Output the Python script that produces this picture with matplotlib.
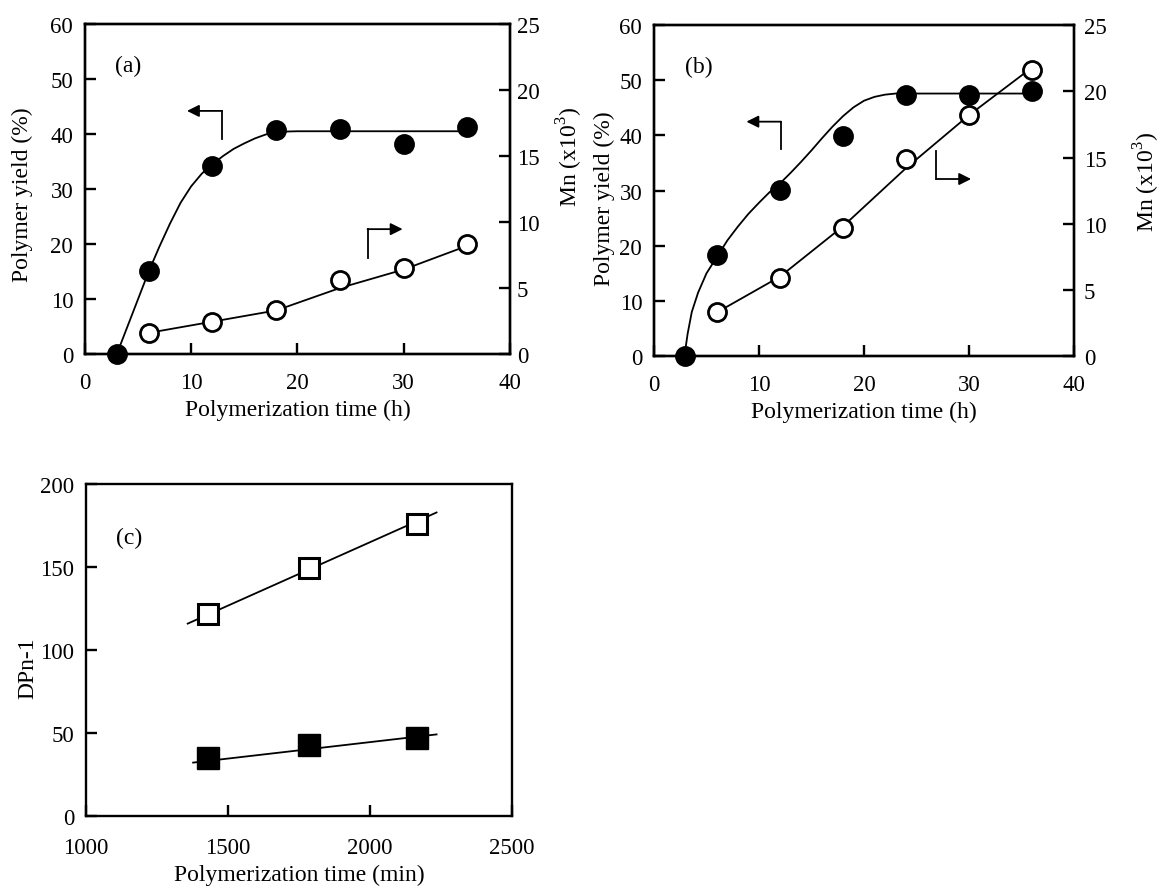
import matplotlib
matplotlib.use("Agg")
import matplotlib.pyplot as plt

plt.rcParams['font.family'] = ['Liberation Serif', 'DejaVu Serif']
plt.rcParams['mathtext.fontset'] = 'custom'
plt.rcParams['mathtext.rm'] = 'Liberation Serif'
plt.rcParams['font.size'] = 16.5

# (a) polymer yield and Mn vs time
time_a = [3, 6, 12, 18, 24, 30, 36]
yield_a = [0, 15, 34.1, 40.8, 40.9, 38.1, 41.3]
mn_time_a = [6, 12, 18, 24, 30, 36]
mn_a = [1.6, 2.4, 3.3, 5.6, 6.5, 8.3]
# fitted curves
yfit_x_a = [3, 6, 7, 8, 9, 10, 11, 12, 13, 14, 15, 16, 17, 18, 20, 36]
yfit_y_a = [0, 15, 19.5, 23.7, 27.5, 30.5, 32.8, 34.5, 36, 37.3, 38.3, 39.2, 39.9, 40.4, 40.5, 40.5]
mfit_x_a = [6, 12, 18, 24, 30, 36]
mfit_y_a = [1.6, 2.45, 3.3, 5.0, 6.4, 8.2]

# (b)
time_b = [3, 6, 12, 18, 24, 30, 36]
yield_b = [0, 18.3, 30.1, 39.9, 47.4, 47.4, 48.1]
mn_time_b = [6, 12, 18, 24, 30, 36]
mn_b = [3.3, 5.9, 9.7, 14.9, 18.2, 21.6]
yfit_x_b = [2.9, 3.2, 3.6, 4.2, 5, 6, 7, 8, 9, 10, 11, 12, 13, 14, 15, 16, 17, 18, 19, 20, 21, 22, 23, 24, 36]
yfit_y_b = [0, 4, 8, 11.5, 15, 18, 21, 23.5, 25.8, 27.8, 29.7, 31.3, 33.2, 35.2, 37.3, 39.5, 41.6, 43.5, 45.1, 46.3, 47, 47.4, 47.6, 47.6, 47.6]
mfit_x_b = [6, 12, 18, 24, 30, 36]
mfit_y_b = [3.3, 6.0, 9.8, 14.2, 18.2, 21.8]

# (c) DPn-1 vs time
time_c = [1430, 1785, 2165]
dp_open = [121.6, 149.7, 175.9]
dp_filled = [34.8, 42.8, 47.2]
fit_x_open = [1358, 2234]
fit_y_open = [116, 183]
fit_x_filled = [1377, 2234]
fit_y_filled = [32.2, 49.2]

LBL = 17


def style(ax, xpad=13, ypad=8.5):
    for s in ax.spines.values():
        s.set_linewidth(1.7)
    ax.tick_params(direction='in', length=8, width=1.7, labelsize=16.5)
    ax.tick_params(axis='x', pad=xpad)
    ax.tick_params(axis='y', pad=ypad)


def bent_arrow(ax, p0, corner, tip):
    ax.plot([p0[0], corner[0]], [p0[1], corner[1]], color='k', lw=1.3)
    ax.annotate('', xy=tip, xytext=corner,
                arrowprops=dict(arrowstyle='-|>', color='k', lw=1.3,
                                mutation_scale=18, shrinkA=0, shrinkB=0))


fig = plt.figure(figsize=(11.61, 8.87), dpi=100)

circ = dict(ms=13, mec='k', mew=2, zorder=3, ls='none')

# panel (a)
ax = fig.add_axes([0.0732, 0.5998, 0.366, 0.372])
ax.plot(yfit_x_a, yfit_y_a, color='k', lw=1.3)
ax.plot(time_a, yield_a, 'o', mfc='k', **circ, clip_on=False)
ax.set_xlim(0, 40)
ax.set_ylim(0, 60)
ax.set_xticks([0, 10, 20, 30, 40])
ax.set_yticks(range(0, 61, 10))
ax.set_xlabel('Polymerization time (h)', fontsize=LBL, labelpad=4)
ax.set_ylabel('Polymer yield (%)', fontsize=LBL)
ax.yaxis.set_label_coords(-0.122, 0.485)
ax.text(4.1, 52.5, '(a)', fontsize=LBL, ha='center', va='center')
bent_arrow(ax, (12.9, 39.1), (12.9, 44.2), (9.6, 44.2))
bent_arrow(ax, (26.6, 17.4), (26.6, 22.7), (29.9, 22.7))
style(ax)
ax2 = ax.twinx()
ax2.plot(mfit_x_a, mfit_y_a, color='k', lw=1.3)
ax2.plot(mn_time_a, mn_a, 'o', mfc='white', **circ)
ax2.set_ylim(0, 25)
ax2.set_yticks(range(0, 26, 5))
ax2.set_ylabel('Mn (x10$^3$)', fontsize=LBL)
ax2.yaxis.set_label_coords(1.106, 0.6)
style(ax2, ypad=5)

# panel (b)
ax = fig.add_axes([0.5633, 0.5975, 0.3618, 0.373])
ax.plot(yfit_x_b, yfit_y_b, color='k', lw=1.3)
ax.plot(time_b, yield_b, 'o', mfc='k', **circ, clip_on=False)
ax.set_xlim(0, 40)
ax.set_ylim(0, 60)
ax.set_xticks([0, 10, 20, 30, 40])
ax.set_yticks(range(0, 61, 10))
ax.set_xlabel('Polymerization time (h)', fontsize=LBL, labelpad=4)
ax.set_ylabel('Polymer yield (%)', fontsize=LBL)
ax.yaxis.set_label_coords(-0.093, 0.48)
ax.text(4.25, 52.6, '(b)', fontsize=LBL, ha='center', va='center')
bent_arrow(ax, (12.1, 37.5), (12.1, 42.5), (8.8, 42.5))
bent_arrow(ax, (26.9, 37.2), (26.9, 32.1), (30.2, 32.1))
style(ax)
ax2 = ax.twinx()
ax2.plot(mfit_x_b, mfit_y_b, color='k', lw=1.3)
ax2.plot(mn_time_b, mn_b, 'o', mfc='white', **circ)
ax2.set_ylim(0, 25)
ax2.set_yticks(range(0, 26, 5))
ax2.set_ylabel('Mn (x10$^3$)', fontsize=LBL)
ax2.yaxis.set_label_coords(1.138, 0.53)
style(ax2, ypad=7)

# panel (c)
ax = fig.add_axes([0.0741, 0.0789, 0.367, 0.374])
ax.plot(fit_x_open, fit_y_open, color='k', lw=1.3)
ax.plot(fit_x_filled, fit_y_filled, color='k', lw=1.3)
ax.plot(time_c, dp_open, 's', ms=14, mfc='white', mec='k', mew=2.2, ls='none', zorder=3)
ax.plot(time_c, dp_filled, 's', ms=16, mfc='k', mec='k', ls='none', zorder=3)
ax.set_xlim(1000, 2500)
ax.set_ylim(0, 200)
ax.set_xticks([1000, 1500, 2000, 2500])
ax.set_yticks([0, 50, 100, 150, 200])
ax.set_xlabel('Polymerization time (min)', fontsize=LBL, labelpad=4)
ax.set_ylabel('DPn-1', fontsize=LBL)
ax.yaxis.set_label_coords(-0.113, 0.45)
ax.text(1151, 168, '(c)', fontsize=LBL, ha='center', va='center')
style(ax, xpad=15)

fig.savefig('out.png', dpi=100, facecolor='white')
